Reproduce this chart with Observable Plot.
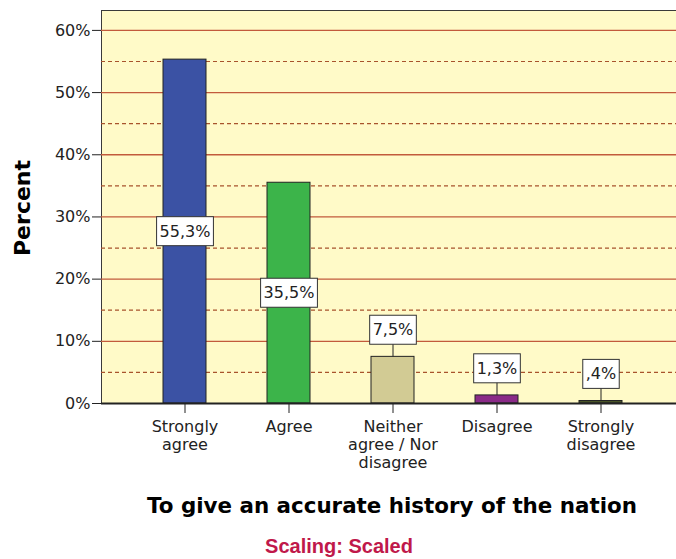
<!DOCTYPE html>
<html>
<head>
<meta charset="utf-8">
<script src="https://cdn.jsdelivr.net/npm/d3@7"></script>
<script src="https://cdn.jsdelivr.net/npm/@observablehq/plot@0.6"></script>
<style>
  html, body { margin: 0; padding: 0; background: #fff; overflow: hidden; width: 676px; height: 559px; }
  #chart { height: 480px; }
  #title { margin-top: 13px; height: 42px; line-height: 42px; padding-left: 108px; text-align: center; font: bold 21.4px "DejaVu Sans", sans-serif; color: #000; white-space: nowrap; }
  #caption { height: 24px; line-height: 30px; padding-left: 2px; text-align: center; font: bold 20px "Liberation Sans", Arial, sans-serif; color: #c0184a; white-space: nowrap; }
</style>
</head>
<body>
<div id="chart"></div>
<div id="title">To give an accurate history of the nation</div>
<div id="caption">Scaling: Scaled</div>
<script>
const categories = ["Strongly agree", "Agree", "Neither agree / Nor disagree", "Disagree", "Strongly disagree"];
const tickLabels = ["Strongly\nagree", "Agree", "Neither\nagree / Nor\ndisagree", "Disagree", "Strongly\ndisagree"];
const percents = [55.3, 35.5, 7.5, 1.3, 0.4];
const valueLabels = ["55,3%", "35,5%", "7,5%", "1,3%", ",4%"];
const colors = ["#3b52a4", "#3cb44a", "#d2cb94", "#8a2a88", "#4a5529"];
const yTicks = [0, 10, 20, 30, 40, 50, 60];
const yMinorTicks = [5, 15, 25, 35, 45, 55];

const data = categories.map((c, i) => ({
  cat: c,
  v: percents[i],
  label: valueLabels[i],
  color: colors[i],
  ly: percents[i] >= 20 ? percents[i] / 2 : percents[i] + 4.3
}));
const small = data.filter(d => d.v < 20);

const plot = Plot.plot({
  width: 676,
  height: 480,
  marginLeft: 101,
  marginRight: 0,
  marginTop: 10,
  marginBottom: 77,
  style: { fontFamily: "DejaVu Sans, sans-serif", fontSize: "16px", color: "#222", background: "#fff" },
  x: { domain: categories, range: [131, 653], paddingInner: 0.59, paddingOuter: 0.295, align: 0.5, label: null },
  y: { domain: [0, 63.2], label: null },
  marks: [
    Plot.frame({ fill: "#fffac8", stroke: "#3a3a3a", insetRight: -4 }),
    Plot.ruleY(yMinorTicks, { stroke: "#a8532c", strokeWidth: 1.2, strokeDasharray: "4,3" }),
    Plot.ruleY(yTicks.filter(d => d > 0), { stroke: "#c25a3c", strokeWidth: 1.3 }),
    Plot.barY(data, { x: "cat", y: "v", fill: "color", stroke: "#222", strokeWidth: 1 }),
    Plot.ruleY([0], { stroke: "#222", strokeWidth: 2 }),
    Plot.axisY({ ticks: yTicks, tickFormat: d => d + "%", tickSize: 9, tickPadding: 2, stroke: "#222", fontSize: 16 }),
    Plot.axisX({ tickSize: 10, tickPadding: 6, tickFormat: d => tickLabels[categories.indexOf(d)], lineHeight: 1.12, stroke: "#222", fontSize: 16, fill: "#222" }),
    Plot.text(["Percent"], { frameAnchor: "left", textAnchor: "middle", rotate: -90, dx: -79, dy: 1, fontWeight: "bold", fontSize: 22, fill: "#000", fontFamily: "DejaVu Sans, sans-serif" }),
    Plot.ruleX(small, { x: "cat", y1: "v", y2: "ly", stroke: "#222", strokeWidth: 1 }),
    Plot.text(data, { x: "cat", y: "ly", text: "label", fill: "#222", fontSize: 16, className: "vlabels" })
  ]
});
document.getElementById("chart").appendChild(plot);

// white label boxes behind the value labels
const svgNS = "http://www.w3.org/2000/svg";
plot.querySelectorAll(".vlabels text").forEach(t => {
  const b = t.getBBox();
  const r = document.createElementNS(svgNS, "rect");
  const px = 3, py = 5;
  r.setAttribute("x", b.x - px);
  r.setAttribute("y", b.y - py);
  r.setAttribute("width", b.width + 2 * px);
  r.setAttribute("height", b.height + 2 * py);
  r.setAttribute("fill", "#fff");
  r.setAttribute("stroke", "#333");
  r.setAttribute("stroke-width", "1");
  if (t.getAttribute("transform")) r.setAttribute("transform", t.getAttribute("transform"));
  t.parentNode.insertBefore(r, t);
});
</script>
</body>
</html>
